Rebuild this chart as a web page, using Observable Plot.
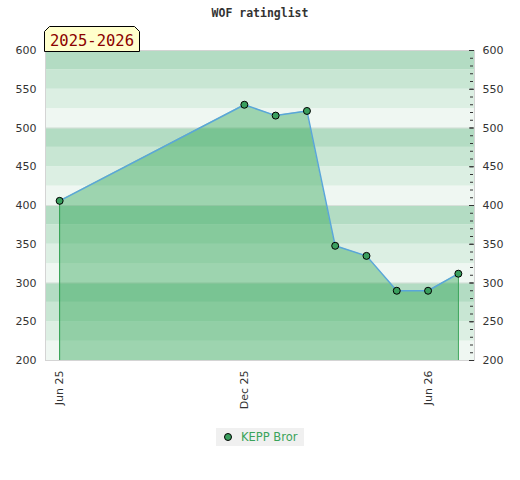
<!DOCTYPE html>
<html>
<head>
<meta charset="utf-8">
<script src="https://cdn.jsdelivr.net/npm/d3@7"></script>
<script src="https://cdn.jsdelivr.net/npm/@observablehq/plot@0.6"></script>
<style>
  body { margin: 0; background: #fff; }
  #wrap { position: relative; width: 520px; height: 480px; font-family: "DejaVu Sans", sans-serif; }
  #title { position: absolute; left: 0; width: 520px; top: 6px; text-align: center;
           font: bold 11.5px "DejaVu Sans Mono", monospace; color: #333; }
  #badge { position: absolute; left: 44px; top: 26px; }
  #legend { position: absolute; left: 216px; top: 428px; width: 88px; height: 18px; background: #f0f0f0;
            font: 11.5px "DejaVu Sans", sans-serif; color: #3aa35a; }
  #legend .dot { position: absolute; left: 8px; top: 5px; width: 6px; height: 6px; border-radius: 50%;
                 background: #3a9f5e; border: 1px solid #000; }
  #legend .lbl { position: absolute; left: 25px; top: 2px; }
</style>
</head>
<body>
<div id="wrap">
  <div id="chart"></div>
  <div id="title">WOF ratinglist</div>
  <svg id="badge" width="98" height="26">
    <polygon points="0.5,25.5 0.5,5.5 5.5,0.5 90.5,0.5 95.5,5.5 95.5,25.5" fill="#ffffcc" stroke="#000" stroke-width="1"/>
    <text x="6" y="20" font-family="DejaVu Sans Mono, monospace" font-size="15.5" fill="#8b0000">2025-2026</text>
  </svg>
  <div id="legend"><span class="dot"></span><span class="lbl">KEPP Bror</span></div>
</div>
<script>
const dates = ["2025-06-01","2025-12-01","2026-01-01","2026-02-01","2026-03-01","2026-04-01","2026-05-01","2026-06-01","2026-07-01"];
const ratings = [406, 530, 516, 522, 348, 335, 290, 290, 312];
const xTickDates = ["2025-06-01","2025-12-01","2026-06-01"];
const xTickLabels = ["Jun 25","Dec 25","Jun 26"];
const yMajorTicks = [200, 250, 300, 350, 400, 450, 500, 550, 600];
const bandShades = ["#eff7f2", "#dcefe3", "#c8e6d3", "#b3dcc3"];

const parse = d3.utcParse("%Y-%m-%d");
const data = dates.map((d, i) => ({date: parse(d), rating: ratings[i]}));
const bands = d3.range(200, 600, 25).map((lo, i) => ({lo, hi: lo + 25, shade: bandShades[i % 4]}));
const tickDates = xTickDates.map(parse);
const labelOf = new Map(tickDates.map((d, i) => [+d, xTickLabels[i]]));
const first = data[0], last = data[data.length - 1];

const chart = Plot.plot({
  width: 520,
  height: 480,
  marginTop: 50,
  marginBottom: 120,
  marginLeft: 45,
  marginRight: 46,
  style: {fontFamily: "DejaVu Sans, sans-serif", fontSize: "11px", color: "#333", background: "transparent"},
  x: {type: "utc", domain: [parse("2025-05-18"), parse("2026-07-17")]},
  y: {domain: [200, 600]},
  marks: [
    Plot.rectY(bands, {y1: "lo", y2: "hi", fill: "shade"}),
    Plot.ruleY([300, 400, 500], {stroke: "#d8e0da", strokeWidth: 1}),
    Plot.areaY(data, {x: "date", y1: 200, y2: "rating", fill: "#22a04c", fillOpacity: 0.4}),
    Plot.ruleX([first, last], {x: "date", y1: 200, y2: "rating", stroke: "#2e9e4e", strokeWidth: 1}),
    Plot.line(data, {x: "date", y: "rating", stroke: "#5aa6d9", strokeWidth: 1.5}),
    Plot.dot(data, {x: "date", y: "rating", r: 3.5, fill: "#3a9f5e", stroke: "#000", strokeWidth: 1}),
    Plot.frame({stroke: "#d4d4d4"}),
    Plot.axisX({ticks: tickDates, tickFormat: d => labelOf.get(+d), tickRotate: -90, tickSize: 0, tickPadding: 10, label: null, fill: "#333"}),
    Plot.axisY({anchor: "left", ticks: yMajorTicks, tickSize: 0, tickPadding: 9, label: null, fill: "#333"}),
    Plot.axisY({anchor: "right", ticks: yMajorTicks, tickSize: 0, tickPadding: 8, label: null, fill: "#333"}),
    Plot.axisY({anchor: "right", ticks: yMajorTicks, tickSize: 5, tickFormat: () => "", label: null, dx: -6}),
    Plot.axisY({anchor: "right", ticks: d3.range(200, 601, 10), tickSize: 3, tickFormat: () => "", label: null, dx: -5})
  ]
});
document.getElementById("chart").appendChild(chart);
</script>
</body>
</html>
